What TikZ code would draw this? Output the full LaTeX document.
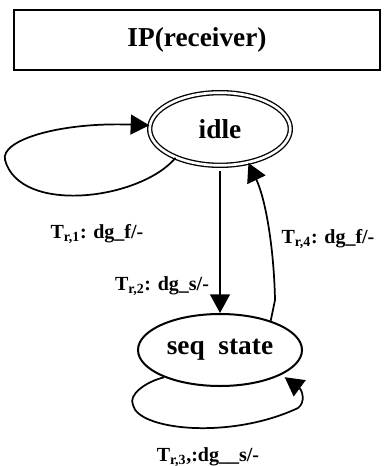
\documentclass[tikz,border=0pt]{standalone}
\usepackage{fontspec}
\setmainfont{Liberation Serif}
\usetikzlibrary{shapes.geometric,arrows.meta}
\tikzset{
  ipstate/.style={ellipse,draw,line width=1.5pt,inner sep=0pt,font=\bfseries\fontsize{20.5}{24}\selectfont},
  iparrow/.style={line width=1.3pt,-{Triangle[length=14pt,width=15pt]}},
  iplabel/.style={font=\bfseries\fontsize{15}{18}\selectfont,inner sep=0pt}
}

\begin{document}
\begin{tikzpicture}[x=0.75pt,y=-0.75pt]
\path[use as bounding box] (0,0) rectangle (383,466);
\node[draw,line width=1.5pt,inner sep=0pt,minimum width=274.5pt,minimum height=45pt,font=\bfseries\fontsize{20.5}{24}\selectfont] (title) at (197,40) {IP(receiver)};
\node[ipstate,double,double distance=2pt,line width=1pt,minimum width=105.5pt,minimum height=54.5pt] (idle) at (220,129) {idle};
\node[ipstate,minimum width=123pt,minimum height=54pt] (seq) at (220,350) {seq\ \ state};
\draw[iparrow] (idle.213) .. controls (140,200) and (20,215) .. (5,160)
  .. controls (0,140) and (60,122) .. (idle.177);
\draw[iparrow,line width=1pt,shorten <=4pt] (idle) -- (seq);
\draw[iparrow] (seq.30) -- (275,300) .. controls (274,250) and (266,200) .. (idle.-50);
\draw[iparrow,shorten >=3pt] (seq.206) .. controls (145,382) and (128,395) .. (133,405)
  .. controls (138,430) and (230,440) .. (298,408)
  .. controls (306,402) and (302,390) .. (seq.-22);
\node[iplabel] (t1) at (97,234) {T\textsubscript{r,1}: dg\_f/-};
\node[iplabel] (t2) at (162,286) {T\textsubscript{r,2}: dg\_s/-};
\node[iplabel] (t3) at (208,457) {T\textsubscript{r,3},:dg\_\_s/-};
\node[iplabel] (t4) at (328,239) {T\textsubscript{r,4}: dg\_f/-};
\end{tikzpicture}
\end{document}
